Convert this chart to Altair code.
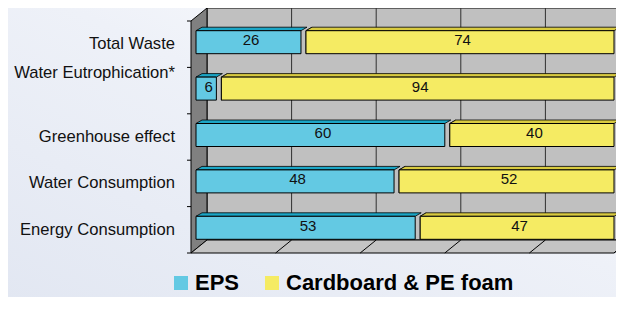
import altair as alt
import pandas as pd

# ---------------- data ----------------
categories = ["Total Waste", "Water Eutrophication*", "Greenhouse effect",
              "Water Consumption", "Energy Consumption"]
label_text = ["Total Waste", "Water Eutrophication*\n\n", "Greenhouse effect",
              "Water Consumption", "Energy Consumption"]
eps = [26, 6, 60, 48, 53]
cardboard = [74, 94, 40, 52, 47]
series_names = ["EPS", "Cardboard & PE foam"]
grid_values = [20, 40, 60, 80]
floor_values = [20, 40, 60, 80, 100]

# ---------------- styles ----------------
front_colors = ["#63c9e3", "#f5eb63"]
top_colors = ["#1ba6c6", "#d9cb40"]
end_colors = ["#12819b", "#a79a36"]
FONT = "Liberation Sans"
LABEL_LH = 18

# ---------------- geometry (plot area in px, depth converted to data units) ----
W, H = 423, 232
N = len(categories)
KX = W / 100.0
KY = H / N
DX, DY = 16 / KX, -13 / KY          # wall depth
BDX, BDY = 6 / KX, -3.5 / KY         # bar depth
BH = 19 / KY                         # bar height
BOX, BOY = 5, -4                     # bar front offset from the front plane (px)

xs = alt.Scale(domain=[0, 100], nice=False, zero=False)
ys = alt.Scale(domain=[0, N], reverse=True, nice=False, zero=False)

rows, top_rows, end_rows = [], [], []
for i, c in enumerate(categories):
    start = 0
    for s, (name, val) in enumerate(zip(series_names, [eps[i], cardboard[i]])):
        end = start + val
        ctr = i + 0.5
        top, bot = ctr - BH / 2, ctr + BH / 2
        key = f"{i}-{s}"
        rows.append(dict(cat=c, series=name, start=start, end=end, mid=(start + end) / 2,
                         val=val, top=top, bot=bot, ctr=ctr))
        top_rows += [dict(seg=key, col=top_colors[s], y=top, x=start, x2=end),
                     dict(seg=key, col=top_colors[s], y=top + BDY, x=start + BDX, x2=end + BDX)]
        end_rows += [dict(seg=key, col=end_colors[s], x=end, y=top, y2=bot),
                     dict(seg=key, col=end_colors[s], x=end + BDX, y=top + BDY, y2=bot + BDY)]
        start = end
seg = pd.DataFrame(rows)
tops = pd.DataFrame(top_rows)
ends = pd.DataFrame(end_rows)
labels = pd.DataFrame({"label": label_text, "ctr": [i + 0.5 for i in range(N)]})

one = pd.DataFrame({"a": [0]})

bg = alt.Chart(one).mark_rect(
    color=alt.Gradient(gradient="linear", x1=0, y1=1, x2=1, y2=0,
                       stops=[alt.GradientStop(color="#e2e7f2", offset=0),
                              alt.GradientStop(color="#eef1f8", offset=0.55),
                              alt.GradientStop(color="#ffffff", offset=1)])
).encode(x=alt.value(-183), x2=alt.value(430), y=alt.value(-13), y2=alt.value(280))

wall = alt.Chart(pd.DataFrame({"x": [DX], "x2": [100 + DX], "y": [DY], "y2": [N + DY]})).mark_rect(
    fill="#c0c0c0", stroke="black", strokeWidth=1
).encode(x=alt.X("x:Q", scale=xs, axis=None), x2="x2:Q",
         y=alt.Y("y:Q", scale=ys, axis=None), y2="y2:Q")

grid = alt.Chart(pd.DataFrame({"v": grid_values})).transform_calculate(
    gx=f"datum.v + {DX}", y0=f"{DY}", y1=f"{N + DY}"
).mark_rule(color="#303030", strokeWidth=1).encode(
    x=alt.X("gx:Q", scale=xs, axis=None), y=alt.Y("y0:Q", scale=ys, axis=None), y2="y1:Q")

side = alt.Chart(pd.DataFrame({"x": [0, DX], "y": [0, DY], "y2": [N, N + DY]})).mark_area(
    orient="vertical", fill="#808080", stroke="black", strokeWidth=1
).encode(x=alt.X("x:Q", scale=xs, axis=None), y=alt.Y("y:Q", scale=ys, axis=None), y2="y2:Q")

floor = alt.Chart(pd.DataFrame({"y": [N, N + DY], "x": [0, DX], "x2": [100, 100 + DX]})).mark_area(
    orient="horizontal", fill="#c4c4c4", stroke="black", strokeWidth=1
).encode(y=alt.Y("y:Q", scale=ys, axis=None), x=alt.X("x:Q", scale=xs, axis=None), x2="x2:Q")

floor_lines = alt.Chart(pd.DataFrame({"v": floor_values})).transform_calculate(
    bx=f"datum.v + {DX}", y0=f"{N}", y1=f"{N + DY}"
).mark_rule(color="black", strokeWidth=1).encode(
    x=alt.X("v:Q", scale=xs, axis=None), x2="bx:Q",
    y=alt.Y("y0:Q", scale=ys, axis=None), y2="y1:Q")

ticks = alt.Chart(pd.DataFrame({"t": list(range(N + 1))})).mark_rule(color="black", strokeWidth=1).encode(
    x=alt.value(-4), x2=alt.value(0), y=alt.Y("t:Q", scale=ys, axis=None))

end_faces = alt.Chart(ends).mark_area(
    orient="vertical", stroke="black", strokeWidth=0.8, xOffset=BOX, yOffset=BOY
).encode(x=alt.X("x:Q", scale=xs, axis=None), y=alt.Y("y:Q", scale=ys, axis=None), y2="y2:Q",
         detail="seg:N", color=alt.Color("col:N", scale=None))

top_faces = alt.Chart(tops).mark_area(
    orient="horizontal", stroke="black", strokeWidth=0.8, xOffset=BOX, yOffset=BOY
).encode(y=alt.Y("y:Q", scale=ys, axis=None), x=alt.X("x:Q", scale=xs, axis=None), x2="x2:Q",
         detail="seg:N", color=alt.Color("col:N", scale=None))

front = alt.Chart(seg).mark_rect(
    stroke="black", strokeWidth=1, xOffset=BOX, yOffset=BOY
).encode(
    x=alt.X("start:Q", scale=xs, axis=None), x2="end:Q",
    y=alt.Y("top:Q", scale=ys, axis=None), y2="bot:Q",
    color=alt.Color("series:N", sort=series_names,
                    scale=alt.Scale(domain=series_names, range=front_colors),
                    legend=alt.Legend(orient="none", legendX=-21, legendY=251, direction="horizontal",
                                      title=None, symbolType="square", symbolSize=196,
                                      symbolStrokeWidth=0, symbolOpacity=1,
                                      labelFontSize=22, labelFontWeight="bold", labelFont=FONT,
                                      labelColor="black", columnPadding=21, labelOffset=3,
                                      labelLimit=400, padding=0)))

values = alt.Chart(seg).mark_text(
    xOffset=BOX, yOffset=BOY, fontSize=15, font=FONT, color="#111111", baseline="middle"
).encode(x=alt.X("mid:Q", scale=xs, axis=None), y=alt.Y("ctr:Q", scale=ys, axis=None), text="val:Q")

# multi-line labels: vertically centred as a block, so extra (blank) lines push the first one up
cat_labels = alt.Chart(labels).transform_calculate(
    lines="split(datum.label, '\\n')",
    first="split(datum.label, '\\n')[0]",
).transform_calculate(
    ly=f"datum.ctr - (length(datum.lines) - 1) * {LABEL_LH / 2 / KY}"
).mark_text(
    align="right", baseline="middle", fontSize=16.6, font=FONT, color="#111111"
).encode(x=alt.value(-16), y=alt.Y("ly:Q", scale=ys, axis=None), text="first:N")

chart = alt.layer(
    bg, wall, grid, side, floor, floor_lines, ticks, end_faces, top_faces, front, values, cat_labels
).resolve_scale(color="independent").properties(
    width=W, height=H,
    padding={"left": 183, "top": 13, "right": 2, "bottom": 44},
    autosize=alt.AutoSizeParams(type="none"),
    background="#e9edf6",
).configure_view(stroke=None)

chart.save("out.html", embed_options={"renderer": "svg", "actions": False})
